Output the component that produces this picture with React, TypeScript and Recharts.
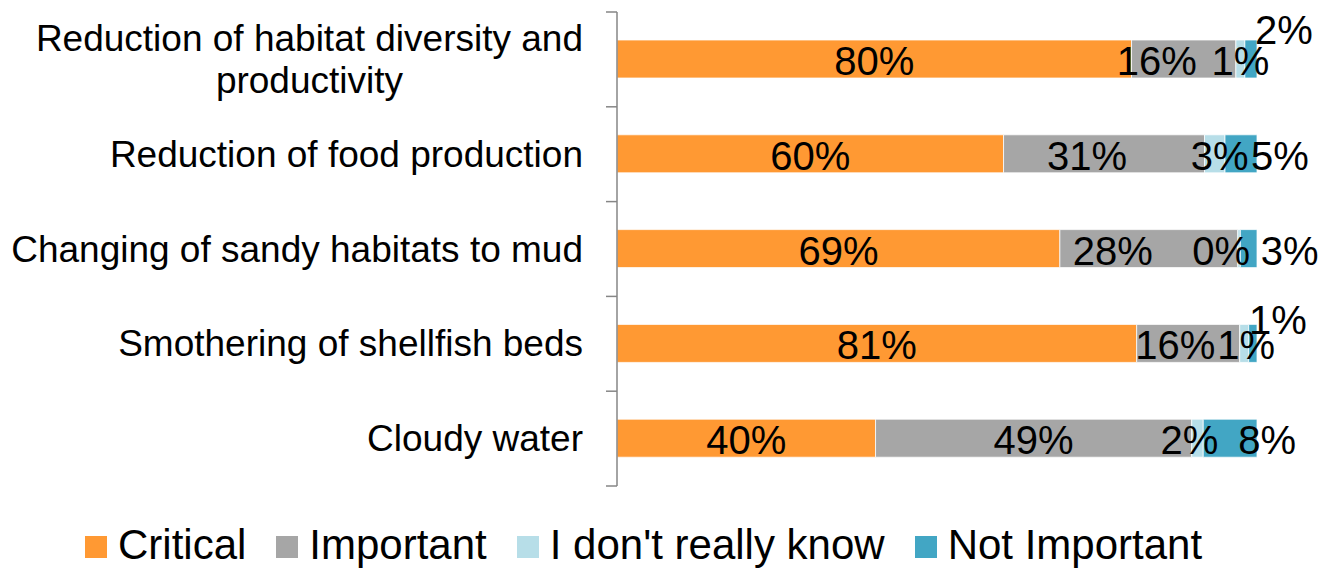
import { BarChart, Bar, XAxis, YAxis, LabelList } from 'recharts';

const FONT = '"Liberation Sans", Arial, Helvetica, sans-serif';

const categories = [
    'Reduction of habitat diversity and productivity',
    'Reduction of food production',
    'Changing of sandy habitats to mud',
    'Smothering of shellfish beds',
    'Cloudy water',
];
const critical = [80.4, 60.4, 69.2, 81.2, 40.4];
const important = [16.3, 31.4, 27.8, 16.1, 49.4];
const dontKnow = [1.4, 3.2, 0.4, 1.4, 1.8];
const notImportant = [1.9, 5.0, 2.6, 1.3, 8.4];

const seriesKeys = ['critical', 'important', 'dontKnow', 'notImportant'];
const seriesNames = ['Critical', 'Important', "I don't really know", 'Not Important'];
const seriesColors = ['#FF9933', '#A6A6A6', '#B7DEE8', '#42A6C4'];

// hand-moved data labels, as in the original (dx, dy in px)
const labelNudges: Record<string, number[][]> = {
    critical: [[0, 0], [0, 0], [0, 0], [0, 0], [0, 0]],
    important: [[-27, 0], [-17, 0], [-36, 0], [-13, 0], [0, 0]],
    dontKnow: [[0, 0], [5, 0], [-18, 0], [2, 0], [-8, 0]],
    notImportant: [[33, -31], [39, 0], [41, 0], [25, -25], [37, 0]],
};

const data = categories.map((name, i) => ({
    name,
    critical: critical[i],
    important: important[i],
    dontKnow: dontKnow[i],
    notImportant: notImportant[i],
}));

const TICK_FONT = 37;

let ctx: CanvasRenderingContext2D | null = null;
function textWidth(s: string, size: number) {
    if (!ctx) ctx = document.createElement('canvas').getContext('2d');
    if (ctx) {
        ctx.font = `${size}px ${FONT}`;
        return ctx.measureText(s).width;
    }
    return s.length * size * 0.5;
}

function wrap(s: string, maxChars: number) {
    const lines: string[] = [];
    let cur = '';
    for (const w of s.split(' ')) {
        const next = cur ? cur + ' ' + w : w;
        if (next.length > maxChars && cur) {
            lines.push(cur);
            cur = w;
        } else {
            cur = next;
        }
    }
    if (cur) lines.push(cur);
    return lines;
}

function CategoryTick(props: any) {
    const { x, y, payload, index } = props;
    const half = payload.offset || 47.4;
    const last = index === (props.visibleTicksCount ?? categories.length) - 1;
    const lines = wrap(String(payload.value), 34);
    const widest = Math.max(...lines.map((l) => textWidth(l, TICK_FONT)));
    const cx = x - 34 - widest / 2;
    const lineGap = 42;
    const first = y - ((lines.length - 1) * lineGap) / 2;
    return (
        <g>
            <line x1={x - 11} x2={x} y1={y - half} y2={y - half} stroke="#868686" strokeWidth={1.5} />
            {last && <line x1={x - 11} x2={x} y1={y + half} y2={y + half} stroke="#868686" strokeWidth={1.5} />}
            <text fontSize={TICK_FONT} fill="#000" fontFamily={FONT} textAnchor="middle">
                {lines.map((l, i) => (
                    <tspan key={i} x={cx} y={first + i * lineGap + 12.5}>{l}</tspan>
                ))}
            </text>
        </g>
    );
}

function makeLabel(key: string) {
    return (props: any) => {
        const vb = props.viewBox || {};
        const x = props.x ?? vb.x;
        const y = props.y ?? vb.y;
        const width = props.width ?? vb.width;
        const height = props.height ?? vb.height;
        const idx = props.index ?? 0;
        const [dx, dy] = labelNudges[key][idx] || [0, 0];
        return (
            <text
                x={x + width / 2 + dx}
                y={y + height / 2 + dy + 16}
                textAnchor="middle"
                fontSize={40}
                fontFamily={FONT}
                fill="#000"
            >
                {`${Math.round(Number(props.value))}%`}
            </text>
        );
    };
}

export default function App() {
    return (
        <div style={{ position: 'absolute', left: 0, top: 0, width: 1334, height: 568, background: '#fff', fontFamily: FONT }}>
            <BarChart
                width={1334}
                height={568}
                data={data}
                layout="vertical"
                barSize={38}
                margin={{ top: 12, right: 77, bottom: 82, left: 0 }}
            >
                <XAxis type="number" domain={[0, 100]} hide />
                <YAxis
                    type="category"
                    dataKey="name"
                    width={617}
                    interval={0}
                    tickSize={0}
                    tickMargin={0}
                    tickLine={false}
                    axisLine={{ stroke: '#868686', strokeWidth: 1.5 }}
                    tick={<CategoryTick />}
                />
                {seriesKeys.map((k, i) => (
                    <Bar
                        key={k}
                        dataKey={k}
                        name={seriesNames[i]}
                        stackId="a"
                        fill={seriesColors[i]}
                        stroke="#fff"
                        strokeWidth={0.75}
                        isAnimationActive={false}
                    >
                        <LabelList dataKey={k} content={makeLabel(k)} />
                    </Bar>
                ))}
            </BarChart>
            <div
                style={{
                    position: 'absolute', left: 85, top: 524, display: 'flex', alignItems: 'center',
                    fontSize: 42, lineHeight: '42px', color: '#000',
                }}
            >
                {seriesNames.map((n, i) => (
                    <div key={n} style={{ display: 'flex', alignItems: 'center', marginRight: 30 }}>
                        <span style={{ width: 22, height: 22, background: seriesColors[i], marginRight: 11, marginTop: 3 }} />
                        <span style={{ whiteSpace: 'pre' }}>{n}</span>
                    </div>
                ))}
            </div>
        </div>
    );
}
